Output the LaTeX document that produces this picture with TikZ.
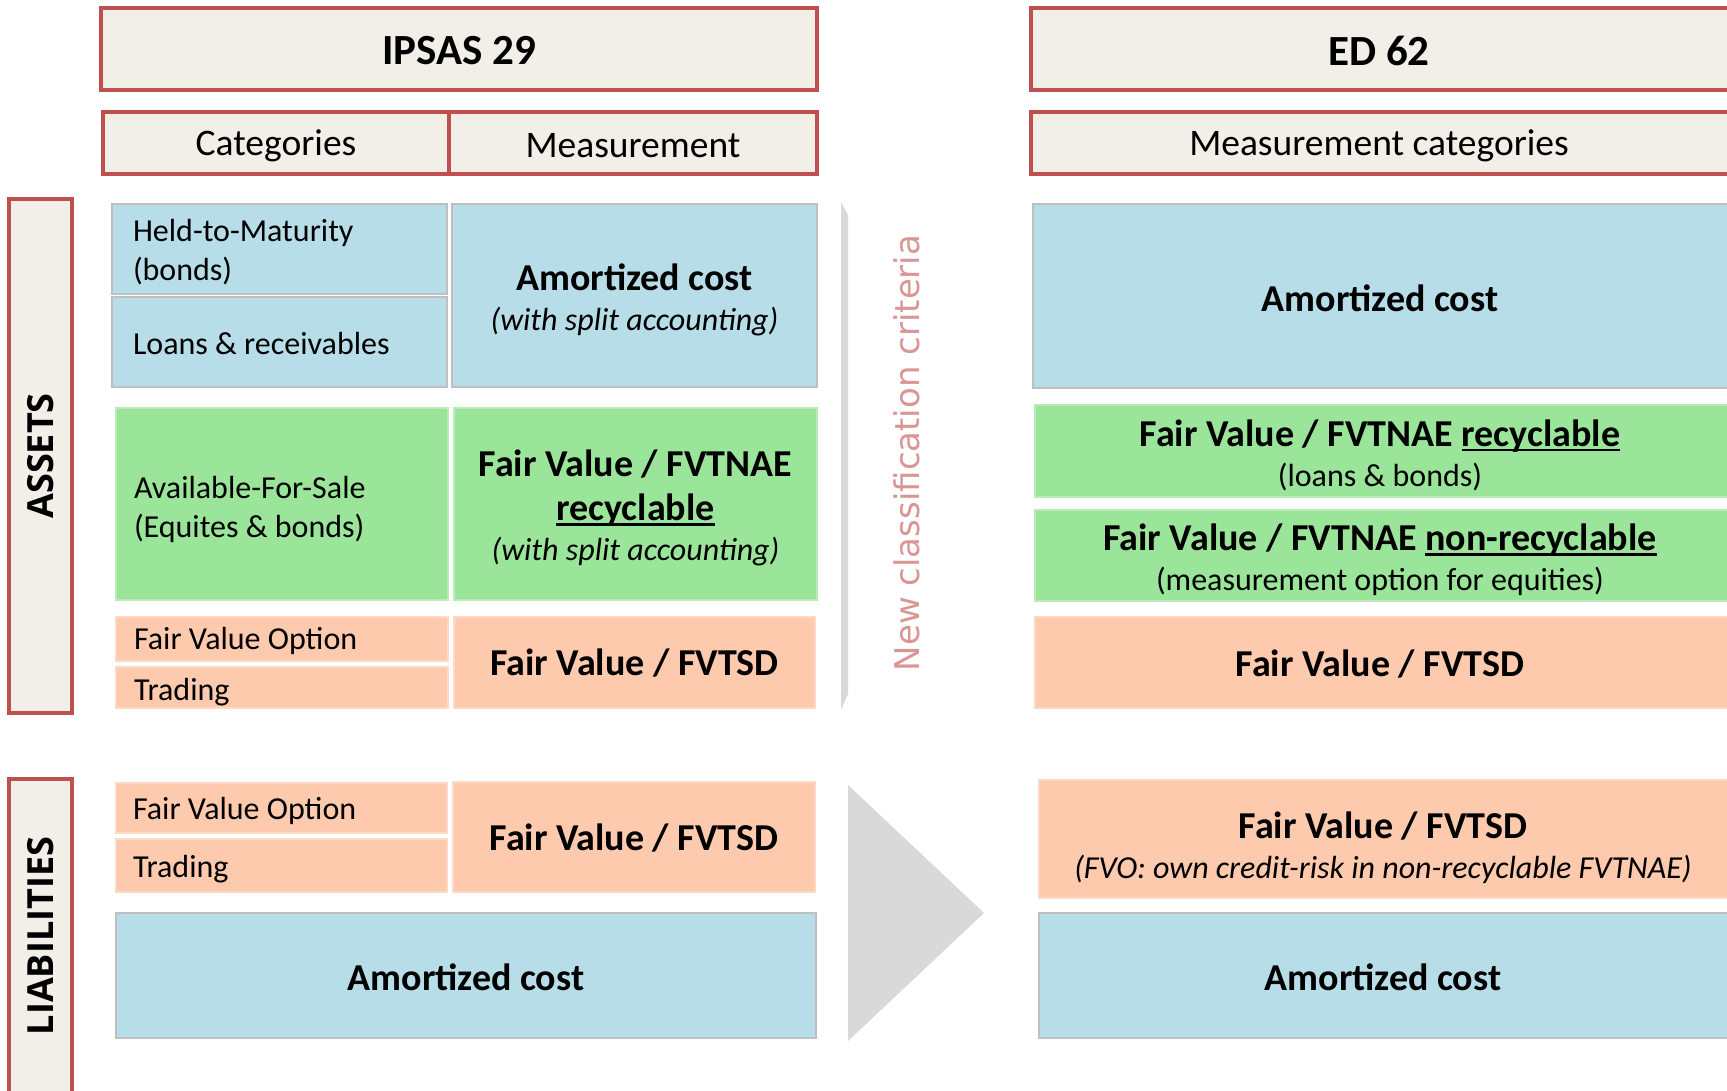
\documentclass[tikz,border=0pt]{standalone}
\usepackage{fontspec}
\setmainfont{Carlito}
\newfontfamily\sidefont{Open Sans}
\newfontfamily\notefont{DejaVu Sans}

\definecolor{hdrred}{HTML}{C0504D}
\definecolor{hdrfill}{HTML}{F2EFE9}
\definecolor{cellblue}{HTML}{B7DDE8}
\definecolor{cellgreen}{HTML}{9AE59A}
\definecolor{cellpeach}{HTML}{FDCAAE}
\definecolor{bluegray}{HTML}{BFBFBF}
\definecolor{arrowgray}{HTML}{D9D9D9}
\definecolor{notepink}{HTML}{D99694}

% underline set just under the baseline
\newcommand\ulword[1]{\setbox0=\hbox{#1}\rlap{\rule[-0.13em]{\wd0}{0.065em}}\box0}

% a rectangular cell given by its corners: name, style, x1, y1, x2, y2
\newcommand\cell[6]{%
  \node[#2, minimum width={(#5)-(#3)}, minimum height={(#6)-(#4)}]
    (#1) at ({((#3)+(#5))/2},{((#4)+(#6))/2}) {};}

\tikzset{
  base/.style={rectangle, inner sep=0pt, outer sep=0pt, align=center, text=black},
  hdr/.style={base, draw=hdrred, line width=4pt, fill=hdrfill},
  hdrbig/.style={base, font=\fontsize{43}{50}\selectfont\bfseries},
  hdrsmall/.style={base, font=\fontsize{37.5}{44}\selectfont},
  sidetext/.style={base, rotate=90, font=\sidefont\bfseries\fontsize{36}{40}\selectfont},
  bluecell/.style={base, fill=cellblue, draw=bluegray, line width=2pt},
  greencell/.style={base, fill=cellgreen, draw=cellgreen!70!white, line width=1.5pt},
  peachcell/.style={base, fill=cellpeach, draw=cellpeach!70!white, line width=1.5pt},
  bigtext/.style={base, font=\fontsize{38}{44}\selectfont\bfseries},
  cattext/.style={base, anchor=west, align=left, font=\fontsize{32}{39}\selectfont},
}
\newcommand\smallit[1]{{\fontsize{32}{38}\selectfont\mdseries\itshape #1}}
\newcommand\smallup[1]{{\fontsize{32}{38}\selectfont\mdseries #1}}

\begin{document}
\begin{tikzpicture}[x=1pt, y=-1pt]
  \useasboundingbox[fill=white] (0,0) rectangle (1727,1091);
  \clip (0,0) rectangle (1727,1091);

  % column headers
  \cell{ipsas}{hdr}{101}{8}{817}{90}
  \node[hdrbig] (ipsastext) at (459,51) {IPSAS 29};
  \cell{ed}{hdr}{1031}{8}{1760}{90}
  \node[hdrbig] (edtext) at (1379,51) {ED 62};
  \cell{cat}{hdr}{103}{112}{449}{174}
  \node[hdrsmall] (cattext) at (276,146) {Categories};
  \cell{meas}{hdr}{449}{112}{817}{174}
  \node[hdrsmall] (meastext) at (633,146) {Measurement};
  \cell{mcat}{hdr}{1031}{112}{1760}{174}
  \node[hdrsmall] (mcattext) at (1379,146) {Measurement categories};

  % row headers
  \cell{assets}{hdr}{9}{199}{72}{713}
  \node[sidetext] (assetstext) at (41,456) {ASSETS};
  \cell{liab}{hdr}{9}{779}{72}{1110}
  \node[sidetext] (liabtext) at (41,936) {LIABILITIES};

  % IPSAS 29 - assets
  \cell{htm}{bluecell}{112}{204}{447}{294}
  \node[cattext] (htmtext) at (133,252) {Held-to-Maturity\\(bonds)};
  \cell{lr}{bluecell}{112}{297}{447}{387}
  \node[cattext] (lrtext) at (133,344) {Loans \& receivables};
  \cell{acA}{bluecell}{452}{204}{817}{387}
  \node[bigtext] (acAtext) at (634.5,300) {Amortized cost\\[-4pt]\smallit{(with split accounting)}};

  \cell{afs}{greencell}{116}{408}{448}{600}
  \node[cattext] (afstext) at (134,509) {Available-For-Sale\\(Equites \& bonds)};
  \cell{fvrA}{greencell}{454}{408}{817}{600}
  \node[bigtext] (fvrAtext) at (635.5,508) {Fair Value / FVTNAE\\\ulword{recyclable}\\[-4pt]\smallit{(with split accounting)}};

  \cell{fvoA}{peachcell}{116}{617}{448}{661}
  \node[cattext] (fvoAtext) at (134,641) {Fair Value Option};
  \cell{trdA}{peachcell}{116}{667}{448}{708}
  \node[cattext] (trdAtext) at (134,692) {Trading};
  \cell{fvtsdA}{peachcell}{454}{617}{815}{708}
  \node[bigtext] (fvtsdAtext) at (634.5,663) {Fair Value / FVTSD};

  % IPSAS 29 - liabilities
  \cell{fvoL}{peachcell}{116}{783}{447}{833}
  \node[cattext] (fvoLtext) at (133,811) {Fair Value Option};
  \cell{trdL}{peachcell}{116}{839}{447}{892}
  \node[cattext] (trdLtext) at (133,869) {Trading};
  \cell{fvtsdL}{peachcell}{453}{782}{815}{892}
  \node[bigtext] (fvtsdLtext) at (634,838) {Fair Value / FVTSD};
  \cell{acL}{bluecell}{116}{913}{816}{1038}
  \node[bigtext] (acLtext) at (466,977) {Amortized cost};

  % transition shapes
  \fill[arrowgray] (841,202) -- (848,215) -- (848,694) -- (841,710) -- cycle;
  \fill[arrowgray] (848,785) -- (984,913) -- (848,1041) -- cycle;
  \node[base, rotate=90, text=notepink, font=\notefont\fontsize{34}{40}\selectfont] (crit) at (907,453) {New classification criteria};

  % ED 62 - assets
  \cell{acB}{bluecell}{1033}{204}{1760}{388}
  \node[bigtext] (acBtext) at (1380,298) {Amortized cost};
  \cell{fvrB}{greencell}{1035}{405}{1760}{497}
  \node[bigtext] (fvrBtext) at (1380,455) {Fair Value / FVTNAE \ulword{recyclable}\\[-4pt]\smallup{(loans \& bonds)}};
  \cell{fvnB}{greencell}{1035}{510}{1760}{601}
  \node[bigtext] (fvnBtext) at (1380,560) {Fair Value / FVTNAE \ulword{non-recyclable}\\[-4pt]\smallup{(measurement option for equities)}};
  \cell{fvtsdB}{peachcell}{1035}{617}{1760}{708}
  \node[bigtext] (fvtsdBtext) at (1380,664) {Fair Value / FVTSD};

  % ED 62 - liabilities
  \cell{fvtsdC}{peachcell}{1039}{780}{1760}{898}
  \node[bigtext] (fvtsdCtext) at (1383,848) {Fair Value / FVTSD\\[-4pt]\smallit{(FVO: own credit-risk in non-recyclable FVTNAE)}};
  \cell{acC}{bluecell}{1039}{913}{1760}{1038}
  \node[bigtext] (acCtext) at (1383,977) {Amortized cost};
\end{tikzpicture}
\end{document}
